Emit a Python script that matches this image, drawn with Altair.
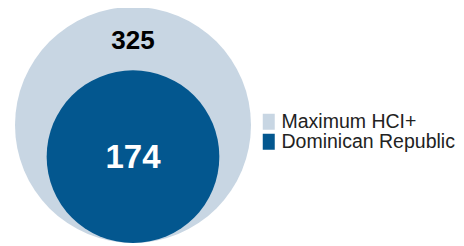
import math
import altair as alt
import pandas as pd

# ---- data ----
categories = ["Maximum HCI+", "Dominican Republic"]
values = [325, 174]
colors = ["#c8d6e3", "#03578f"]
label_colors = ["#000000", "#ffffff"]
label_sizes = [26, 33]

# ---- layout (pixels inside the plot area) ----
W, H = 448, 238
MAX_R = 118.0          # radius of the largest circle
BOTTOM = 235.0         # circles sit on a common baseline
CX = 125.0
vmax = max(values)

radii = [math.sqrt(v / vmax) * MAX_R for v in values]
cys = [BOTTOM - r for r in radii]
tops = [BOTTOM - 2 * r for r in radii]
label_y = []
for i in range(len(values)):
    if i + 1 < len(values):
        label_y.append((tops[i] + tops[i + 1]) / 2 + 2)
    else:
        label_y.append(cys[i] + 1)

df = pd.DataFrame({
    "group": categories,
    "value": values,
    "cx": [CX] * len(values),
    "cy": cys,
    "ly": label_y,
    "lcolor": label_colors,
    "lsize": label_sizes,
    "order": list(range(len(values))),
})

base = alt.Chart(df)

# Vega circle symbols: size = diameter^2
circles = base.mark_circle(opacity=1).encode(
    x=alt.X("cx:Q", scale=None, axis=None),
    y=alt.Y("cy:Q", scale=None, axis=None),
    size=alt.Size("value:Q", scale=alt.Scale(domain=[0, vmax], range=[0, (2 * MAX_R) ** 2]), legend=None),
    color=alt.Color(
        "group:N",
        scale=alt.Scale(domain=categories, range=colors),
        legend=alt.Legend(
            title=None,
            orient="none",
            legendX=251,
            legendY=104,
            symbolType="M-0.75,-1L0.75,-1L0.75,1L-0.75,1Z",
            symbolSize=256,
            symbolStrokeWidth=0,
            symbolOpacity=1,
            labelFont="Liberation Sans",
            labelFontSize=19.5,
            labelColor="#222222",
            labelOffset=3,
            rowPadding=-1.1,
            labelLimit=300,
        ),
    ),
    order=alt.Order("order:Q"),
)

labels = base.mark_text(font="Liberation Sans", fontWeight="bold", baseline="middle", align="center").encode(
    x=alt.X("cx:Q", scale=None, axis=None),
    y=alt.Y("ly:Q", scale=None, axis=None),
    text=alt.Text("value:Q"),
    color=alt.Color("lcolor:N", scale=None),
    size=alt.Size("lsize:Q", scale=None),
)

chart = alt.layer(circles, labels).properties(
    width=W, height=H, padding=0,
    autosize=alt.AutoSizeParams(type="none"),
).configure_view(stroke=None)

chart.save("out.html", embed_options={"renderer": "svg", "actions": False})
